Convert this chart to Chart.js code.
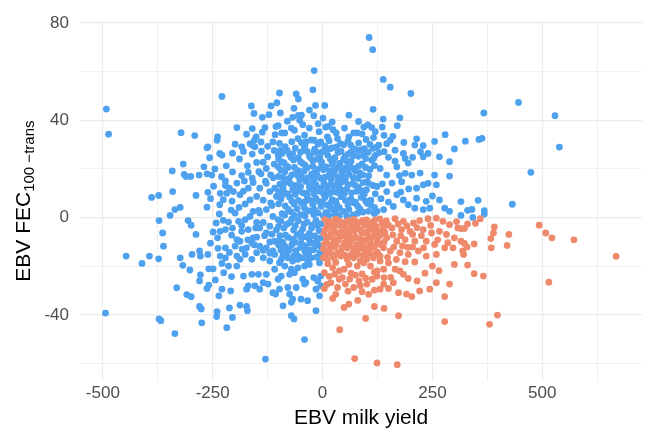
<!DOCTYPE html>
<html>
<head>
<meta charset="utf-8">
<script src="https://cdn.jsdelivr.net/npm/chart.js@4.4.1/dist/chart.umd.min.js"></script>
<style>
  html, body { margin: 0; padding: 0; background: #fff; }
  #wrap { width: 646px; height: 432px; }
</style>
</head>
<body>
<div id="wrap"><canvas id="canvas" width="646" height="432"></canvas></div>
<script>
// [EBV milk yield, EBV FEC100-trans]
var bluePoints = [
  [-229,49.8],[-492,44.6],[-487,34.3],[-322,34.9],[-291,33.7],[-239,33.2],[-240,31.8],[-261,29.1],[-195,37],[-162,45.9],
  [-156,42.8],[-137,41.2],[-122,42.3],[-117,45.9],[-104,47.2],[-98,51.2],[-96,43],[-173,34.3],[-160,36.6],[-151,33.2],
  [-137,35.1],[-131,37],[-106,37.4],[-101,37.8],[-108,34.1],[-93,34.8],[-199,30.2],[-184,29.1],[-165,30.4],[-155,31.8],
  [-140,31.1],[-113,31.1],[-159,29.6],
  [106,74],[114,69],[-19,60.4],[-22,52.5],[138,56.8],[154,53.6],[201,51],[-60,50.8],[-55,48.7],[-65,44.9],
  [-16,46.1],[5,46.1],[-68,41.2],[-55,42],[-48,42.1],[-52,40],[-20,41.9],[1,40.9],[-10,38.6],[22,39.3],
  [7,37.2],[13,37.5],[115,44.5],[138,40.5],[176,41],[136,37.2],[170,37.8],[94,37.2],[103,38.1],[112,37],
  [71,34.8],[79,34.8],[99,32.1],[116,32.9],[154,31.8],[214,32.4],[229,29.6],[255,31.3],[279,34.1],[325,31.4],
  [-86,34.8],[-71,36.8],[-64,35.9],[-41,33.9],[-30,36.8],[-56,32.5],[-38,31.1],[-19,31.8],[-4,31.1],[11,33.2],
  [31,34.8],[34,32.5],[41,30.4],[128,29.8],
  [367,43],[446,47.3],[529,41.9],[356,32.1],[363,32.6],[539,29],
  [474,18.6],[432,5.5],[354,7.1],[330,3],[340,3.4],[315,0.9],[342,0.1],[368,2.9],[368,1.5],[315,6.6],
  [-94,-17.1],[-79,-16.5],[-68,-17.8],[-56,-17.1],[-45,-16.5],[-34,-17.8],[-26,-16.5],[-86,-19.9],[-71,-21.2],[-56,-20.6],
  [-41,-19.9],[-30,-19.2],[-7,-18.5],[-94,-24],[-75,-23.3],[-64,-22.6],[-45,-25.3],[-38,-26.7],[-20,-24.6],[-11,-26],
  [-4,-24],[-98,-29.4],[-79,-28.7],[-60,-28.7],[-41,-27.3],[-15,-29.4],[-4,-28],[-75,-31.4],[-68,-33.5],[-49,-33.5],
  [-34,-34.1],[-7,-32.1],[-90,-36.2],[-71,-34.8],[-15,-38.2],[-71,-40.3],[-65,-41.6],[-41,-50.1],
  [-447,-15.8],[-411,-18.8],[-394,-15.8],[-373,-16.9],[-324,-16.5],[-318,-19.6],[-302,-21.5],[-278,-23.5],[-280,-26],[-259,-21],
  [-249,-21],[-259,-27.7],[-263,-29.1],[-244,-25.6],[-229,-18.8],[-225,-22.6],[-229,-29.4],[-236,-32.1],[-214,-19.9],[-207,-24.2],
  [-209,-30.1],[-195,-19.9],[-180,-24],[-161,-23.3],[-146,-23.3],[-169,-28],[-173,-29.4],[-154,-28],[-143,-29.4],[-135,-26.7],
  [-124,-27.3],[-128,-23.3],[-109,-21.2],[-101,-25.3],[-107,-31.4],[-113,-30.8],[-332,-28.8],[-309,-31.6],[-299,-32.5],[-280,-36.5],
  [-276,-37.5],[-275,-43.2],[-240,-38.6],[-241,-40.6],[-212,-37.1],[-205,-41],[-188,-35.9],[-173,-36.5],[-171,-38.2],[-218,-45.2],
  [-494,-39.2],[-372,-41.6],[-368,-42.3],[-336,-47.6],[-130,-58.1],[-221,-16.5],[-188,-17.1],[-161,-17.1],[-135,-16.5],[-120,-17.8],
  [-98,-18.5],[-278,-15.8],
  [-263,28.7],[-234,26.4],[-229,25.7],[-154,29.1],[-139,27.3],[-101,25.7],[-257,24.6],[-317,22],[-342,19.2],[-315,17.8],
  [-300,16.9],[-311,16.9],[-281,17.5],[-270,20.9],[-263,18],[-252,17.5],[-219,21.3],[-189,24.1],[-171,21.3],[-150,22.7],
  [-128,20.2],[-101,20.9],[-94,23],[-184,17.3],[-169,18.6],[-221,15.1],[-221,13.2],[-212,12.1],[-233,10],[-218,10],
  [-203,10.7],[-188,9.4],[-169,12.1],[-165,7.3],[-150,8.7],[-143,12.1],[-128,14.1],[-120,10.7],[-109,12.1],[-105,8.7],
  [-94,13.5],[-389,8.3],[-373,9.1],[-341,10.7],[-288,9.1],[-261,10.4],[-255,7.8],[-234,5.3],[-263,4.3],[-336,3.3],
  [-324,4.2],[-347,0.9],[-372,-1.2],[-306,-1.2],[-299,-3.1],[-235,1.5],[-214,-1.8],[-199,1.9],[-191,-1.5],[-176,-0.8],
  [-165,0.5],[-158,2.6],[-143,1.9],[-128,3.3],[-113,0.5],[-101,-0.8],[-364,-6.3],[-288,-6.9],[-249,-5.9],[-233,-5.6],
  [-239,-8.3],[-221,-4.9],[-207,-7.2],[-195,-9],[-184,-5.6],[-169,-4.9],[-158,-8.3],[-143,-4.2],[-128,-6.3],[-120,-3.5],
  [-109,-9.7],[-362,-11.7],[-255,-10.5],[-221,-12.4],[-199,-11.7],[-188,-9.7],[-173,-12.4],[-161,-10.4],[-143,-11.7],[-128,-12.4],
  [-113,-13.7],[-98,-9.7],[-297,-15.1],[-280,-13.7],[-261,-15.1],[-233,-15.8],[-195,-15.8],[-176,-15.1],[-150,-14.4],[-109,-15.1],
  [124,29.1],[146,30.4],[165,27.7],[184,26.4],[188,24.3],[210,29.8],[223,27.1],[229,25],[240,26.4],[266,25],
  [300,28.2],[289,23],[255,17.5],[289,17.1],[259,13.5],[266,7.3],[278,3.9],[289,2.6],[229,13.5],[214,12.1],
  [203,17.5],[188,18.2],[180,14.8],[169,9.4],[184,7.3],[195,5.3],[214,8],[236,6.7],[244,3.9],[229,3.3],
  [210,3.9],[161,4.6],[139,3.3],[124,2.6],[109,5.3],[146,10.7],[124,12.8],[101,14.8],[94,9.4],[86,17.5],
  [71,20.2],[56,23],[45,18.2],[146,17.5],[131,20.2],[116,24.3],[94,25.7],[79,27.7],[64,29.8],[169,20.9],
  [-85,29.2],[-62,28.5],[-40,29.6],[-18,28.1],[5,29.4],[22,28.7],[48,29.9],[95,28.3],
  [-92,26.4],[-75,25.8],[-50,26.9],[-30,25.3],[-8,26.6],[12,25.6],[35,26.8],[58,26.1],[82,25.2],[104,26.9],
  [-88,22.6],[-66,23.7],[-45,22.2],[-22,23.4],[-2,22.8],[18,23.9],[40,22.4],[65,23.2],[90,22.1],[112,23.6],
  [-95,19.6],[-78,20.7],[-55,19.3],[-35,20.5],[-12,19.8],[8,20.9],[28,19.4],[50,20.3],[75,19.1],[98,20.6],
  [-90,16.4],[-70,17.6],[-48,16.8],[-25,17.9],[-5,16.2],[15,17.3],[35,16.6],[60,17.8],[80,16.1],[105,17.2],
  [-97,13.8],[-80,14.6],[-60,13.3],[-38,14.9],[-15,13.6],[3,14.2],[25,13.1],[45,14.7],[68,13.9],[92,14.4],[115,13.2],
  [-88,10.6],[-68,11.4],[-45,10.2],[-28,11.8],[-8,10.9],[12,11.3],[32,10.4],[55,11.7],[78,10.8],[100,11.5],
  [-95,7.6],[-75,8.4],[-55,7.1],[-35,8.8],[-15,7.9],[5,8.2],[22,7.4],[42,8.6],[65,7.7],[88,8.3],[110,7.2],
  [-85,4.8],[-65,5.6],[-42,4.3],[-22,5.4],[-3,4.6],[18,5.9],[38,4.1],[58,5.2],[80,4.7],[102,5.8],
  [-92,1.6],[-72,2.4],[-50,1.2],[-30,2.8],[-10,1.9],[8,2.2],[28,1.4],[48,2.6],[70,1.1],[92,2.3],[118,1.7],
  [-95,-1.4],[-75,-2.1],[-55,-1.2],[-35,-1.8],[-15,-1.1],[-3,-2.5],[-88,-4.3],[-66,-5.1],[-45,-4.6],[-25,-4.2],
  [-8,-5.3],[-97,-7.4],[-78,-8.1],[-58,-7.2],[-38,-7.8],[-18,-7.5],[-5,-8.3],[-90,-10.2],[-70,-11.1],[-48,-10.6],
  [-28,-10.4],[-10,-11.3],[-95,-13.3],[-80,-14.1],[-60,-13.6],[-40,-13.9],[-20,-13.2],[-6,-14.4],
  [-125,25],[-140,18],[-115,5],[-135,-2],[-150,-8],[-120,-10],[-130,15],[-110,22],[-145,3],[-105,-5],
  [-80,27.5],[-55,24.5],[-35,27.2],[-12,24.1],[8,27.3],[28,24.6],[52,25.3],[72,28.2],[-82,21.3],[-60,18.2],
  [-40,21.6],[-18,18.5],[2,19.7],[22,21.8],[44,18.9],[62,21.4],[85,18.4],[-85,15.2],[-65,12.2],[-52,15.6],
  [-30,12.7],[-20,15.8],[10,12.4],[20,15.9],[38,12.6],[52,15.9],[75,13.2],[-92,9.2],[-62,9.6],[-40,6.6],
  [-20,9.9],[0,6.3],[15,9.7],[30,6.8],[50,9.9],[72,6.1],[95,9.7],[-78,3.4],[-58,3.7],[-38,3.1],
  [-18,3.3],[2,0.6],[20,3.6],[38,0.8],[60,3.3],[80,1.8],[-82,-2.8],[-62,-3.3],[-42,-2.6],[-22,-3],
  [-68,-8.9],[-48,-8.4],[-30,-9],[-12,-9.3],[-85,-11.9],[-50,-12.2],[-32,-15.2],[-14,-16.2],[-65,-15.6],[-90,-15.4],
  [-98,30.5],[-70,31.2],[-48,30.8],[-26,31.9],[-10,30.2],[15,31.6],[32,29.1],[58,31.5],[82,30.7],[108,30.1],
  [-96,27.6],[-68,26.2],[-42,28.3],[-20,26.8],[0,27.1],[18,28.4],[42,27.2],[65,27],[88,27.9],[115,28.5],
  [-100,24.2],[-72,24.8],[-50,22.9],[-28,24.7],[-6,24.9],[25,23.1],[48,24.1],[70,25.4],[98,24.3],[120,25.6],
  [-86,18.9],[-64,20.6],[-42,19.1],[-22,21.1],[-2,21.4],[16,19.2],[36,20.8],[58,19.6],[82,21.2],[108,19.8],
  [-100,16.9],[-76,16.1],[-56,17.2],[-34,16.3],[-12,17.4],[6,16.6],[26,17.8],[48,16.2],[70,16.4],[92,17.6],
  [-90,12.6],[-72,13.8],[-50,12.8],[-24,13.9],[-4,12.1],[18,13.7],[35,14.8],[58,13.6],[82,12.4],[105,14.1],
  [-80,9.8],[-58,10.9],[-36,10.1],[-18,11.6],[2,9.9],[24,10.6],[44,11.2],[66,10.2],[88,11.1],
  [-100,5.7],[-70,6.8],[-48,6.1],[-28,7.1],[-8,6.6],[12,5.1],[32,5.5],[52,7.1],[75,6.4],[98,6.8],[118,4.2],
  [-86,1.1],[-64,0.9],[-40,0.7],[-20,1.3],[14,0.9],[32,3.1],[55,0.6],[85,3.6],[105,2.6],
  [-100,-3.6],[-70,-0.6],[-50,-6.2],[-30,-6.5],[-12,-3.2],[-84,-7.2],[-62,-10.1],[-38,-11.6],[-20,-10.6],[-4,-11.8],
  [-75,-13.1],[-55,-15.9],[-28,-13.4],[-2,-16.1],[-100,-11.2],
  [-245,20],[-230,16.8],[-205,18.8],[-195,14.2],[-178,15.1],[-160,16.2],[-145,18.9],[-118,17.6],[-135,22.8],[-160,26.1],
  [-180,27.2],[-205,26.5],[-125,29.3],[-110,27.6],[-248,12.9],[-226,7.4],[-206,6.8],[-190,4.2],[-176,5.6],[-180,10.9],
  [-158,14.4],[-135,7.2],[-118,6.1],[-100,10.7],[-112,16.4],[-242,-2.2],[-226,-1.1],[-208,3.1],[-184,-3.2],[-150,-1.9],
  [-132,-7.4],[-115,-6.8],[-170,-9.1],[-152,-4.2],[-205,-4.3],[-238,-12.6],[-212,-14.3],[-183,-12.9],[-155,-11.2],[-135,-13.4],
  [-120,-14.6],
  [128,26.7],[150,24.8],[165,23.2],[175,17.3],[158,14.2],[136,13.9],[120,9.8],[150,6.4],[133,7.8],[118,21.4],
  [140,27.1],[160,33.4],[185,30.9],[195,22.4],[205,24.8],[178,10.5],[196,11.8],[222,18.3],[240,14.1],[250,8.9],
  [120,35.3],[90,34.4],[60,33.2],[50,36.8],[82,39.5],[-8,35.3],[24,36.1],[-45,38.2],[-80,39.6],[-30,44.2],
  [60,42.1],[140,33.8]
];

var orangePoints = [
  [359,-0.4],[348,-2.3],[330,-2.6],[323,-4.5],[315,-4.5],[391,-3.8],[389,-6.3],[383,-8.6],[384,-12.4],[424,-6.9],
  [420,-11.4],[493,-3.1],[508,-6.3],[522,-8.3],[572,-9.1],[668,-15.9],[323,-10.6],[329,-12.1],[345,-10.8],[321,-15.1],
  [366,-24],[515,-26.5],[398,-40],[380,-43.8],
  [2,-16.5],[11,-17.1],[26,-16.5],[41,-15.8],[56,-17.1],[71,-16.5],[86,-17.8],[101,-17.1],[116,-16.5],[131,-17.8],
  [4,-22.6],[23,-20.6],[38,-21.9],[49,-21.2],[60,-19.2],[79,-19.9],[94,-18.5],[109,-19.9],[124,-21.9],[139,-21.2],
  [165,-21.2],[176,-21.9],[184,-23.3],[195,-25],[233,-22.8],[250,-19.9],[300,-19.2],[4,-29.1],[19,-26.7],[38,-25.3],
  [34,-28.7],[52,-27.3],[71,-28.7],[83,-26],[86,-28],[101,-27.3],[113,-25.3],[124,-24],[131,-29.4],[139,-27.3],
  [161,-26.7],[173,-30.8],[191,-31.4],[203,-32.4],[221,-30.1],[244,-29.4],[259,-26.7],[289,-27.3],[278,-32.4],[23,-33.2],
  [49,-36.9],[60,-35.5],[140,-37.3],[98,-41.4],[173,-40.3],[39,-46],[278,-42.7],[73,-57.9],[124,-59.7],[170,-60.4],
  [165,-0.4],[184,-1.5],[207,-2.2],[221,-1.2],[240,-0.4],[259,-0.2],[274,-1.5],[289,-2.9],[308,-4.2],[158,-4.2],
  [180,-4.9],[199,-5.6],[229,-4.9],[248,-6.3],[266,-5.6],[282,-6.9],[300,-8.3],[315,-9.7],[146,-8.3],[169,-9.7],
  [188,-9],[210,-9.7],[236,-9.7],[255,-11],[278,-12.4],[297,-12.4],[319,-13.7],[154,-13.7],[176,-14.4],[195,-15.1],
  [218,-13.7],[236,-15.8],[259,-15.1],[131,-15.8],[139,-12.4],
  [5,-0.8],[18,-1.5],[30,-0.6],[45,-1.9],[58,-1.1],[72,-0.7],[85,-1.8],[100,-0.9],[115,-1.6],[130,-0.5],
  [145,-1.3],[10,-3.8],[25,-4.6],[38,-3.2],[52,-4.9],[66,-3.5],[80,-4.4],[95,-3.1],[108,-4.8],[122,-3.6],
  [138,-4.2],[3,-6.6],[16,-7.8],[32,-6.2],[46,-7.4],[60,-6.9],[75,-7.9],[90,-6.4],[104,-7.6],[118,-6.1],
  [132,-7.2],[8,-9.6],[22,-10.8],[36,-9.3],[50,-10.4],[64,-9.8],[78,-11.1],[92,-9.5],[110,-10.7],[125,-9.9],
  [2,-12.8],[15,-13.6],[28,-12.2],[42,-13.9],[56,-12.5],[70,-14.1],[84,-12.9],[98,-13.5],[112,-12.3],[125,-14.2],
  [12,-18.9],[30,-18.4],[65,-22.8],[90,-23.1],[150,-18.6],[155,-24.5],[210,-18.2],[215,-26],[265,-21.8],[105,-31.5],
  [80,-34],[118,-36.5],[330,-19.5],[345,-23],
  [12,-2.2],[24,-2.9],[36,-1.2],[50,-3],[64,-2.3],[78,-2.5],[92,-1.1],[106,-2.7],[120,-0.9],[136,-2.4],
  [6,-5.1],[20,-6.2],[44,-5.6],[58,-5.2],[72,-5.6],[86,-5.1],[100,-5.7],[114,-4.4],[128,-5.8],[142,-6.1],
  [10,-8.4],[26,-8.8],[40,-7.9],[56,-8.6],[70,-8.6],[84,-8.7],[98,-9.1],[112,-8.3],[126,-8.1],[140,-10.1],
  [4,-10.9],[18,-11.6],[30,-11.1],[45,-12.1],[60,-11.4],[72,-12.4],[88,-11.4],[102,-11.8],[118,-11.9],[133,-11.1],
  [8,-14.8],[22,-15.1],[35,-14.6],[50,-15.4],[64,-15.3],[78,-15.2],[92,-15.5],[106,-14.7],[120,-14.9],
  [150,-3.1],[160,-7.1],[172,-2.6],[178,-7.4],[192,-3.4],[205,-6.9],[215,-4.1],[225,-7.4],[194,-12.2],[162,-12.1],
  [182,-11.6],[205,-12.1],[148,-16.3],[168,-17.2],[188,-18.1],[230,-12.4],[246,-3.2],[262,-9.1],[285,-10.3],[305,-1.6],
  [15,-24.1],[28,-23.2],[45,-24.6],[62,-25.2],[75,-23.6],[98,-24.8],[118,-22.4],[140,-24.6],[10,-27.4],[58,-30.2],
  [90,-30.4],[118,-29.8],[150,-29.1],[30,-31.5]
];

var xTicks = [-500, -375, -250, -125, 0, 125, 250, 375, 500, 625];
var xLabelled = [-500, -250, 0, 250, 500];
var yTicks = [-60, -40, -20, 0, 20, 40, 60, 80];
var yLabelled = [-40, 0, 40, 80];

var xTitle = 'EBV milk yield';
var yTitle = 'EBV FEC';
var yTitleSub = '100 \u2212trans';

var blueColour = '#4EA1EE';
var orangeColour = '#EE8A6B';
var gridColour = '#EBEBEB';

function toXY(list) {
  return list.map(function (p) { return { x: p[0], y: p[1] }; });
}

var axisTitles = {
  id: 'axisTitles',
  afterDraw: function (chart) {
    var ctx = chart.ctx;
    var area = chart.chartArea;
    ctx.save();
    ctx.fillStyle = '#000';
    ctx.font = '21px "Liberation Sans", Arial, sans-serif';
    ctx.textAlign = 'center';
    ctx.textBaseline = 'alphabetic';
    ctx.fillText(xTitle, (area.left + area.right) / 2, 424);

    ctx.translate(0, (area.top + area.bottom) / 2);
    ctx.rotate(-Math.PI / 2);
    ctx.textAlign = 'left';
    var mainFont = '21px "Liberation Sans", Arial, sans-serif';
    var subFont = '15px "Liberation Sans", Arial, sans-serif';
    ctx.font = mainFont;
    var w1 = ctx.measureText(yTitle).width;
    ctx.font = subFont;
    var w2 = ctx.measureText(yTitleSub).width;
    var start = -(w1 + w2) / 2;
    ctx.font = mainFont;
    ctx.fillText(yTitle, start, 30);
    ctx.font = subFont;
    ctx.fillText(yTitleSub, start + w1, 34);
    ctx.restore();
  }
};

var config = {
  type: 'scatter',
  data: {
    datasets: [{
      label: 'orange',
      data: toXY(orangePoints),
      backgroundColor: orangeColour,
      borderWidth: 0,
      pointRadius: 3.4
    }, {
      label: 'blue',
      data: toXY(bluePoints),
      backgroundColor: blueColour,
      borderWidth: 0,
      pointRadius: 3.4
    }]
  },
  options: {
    responsive: false,
    animation: false,
    events: [],
    layout: { padding: { top: 19, right: 0, left: 0, bottom: 0 } },
    plugins: {
      legend: { display: false },
      tooltip: { enabled: false }
    },
    scales: {
      x: {
        type: 'linear',
        min: -552,
        max: 727,
        afterBuildTicks: function (scale) {
          scale.ticks = xTicks.map(function (v) { return { value: v }; });
        },
        afterFit: function (scale) { scale.height = 51; },
        border: { display: false },
        grid: {
          drawTicks: false,
          color: gridColour,
          lineWidth: function (c) { return xLabelled.indexOf(c.tick.value) >= 0 ? 1.2 : 0.75; }
        },
        ticks: {
          padding: 2,
          color: '#4D4D4D',
          font: { family: '"Liberation Sans", Arial, sans-serif', size: 17 },
          maxRotation: 0,
          autoSkip: false,
          callback: function (v) { return xLabelled.indexOf(v) >= 0 ? String(v) : ''; }
        }
      },
      y: {
        type: 'linear',
        min: -67.1,
        max: 80.7,
        afterBuildTicks: function (scale) {
          scale.ticks = yTicks.map(function (v) { return { value: v }; });
        },
        afterFit: function (scale) { scale.width = 80; },
        border: { display: false },
        grid: {
          drawTicks: false,
          color: gridColour,
          lineWidth: function (c) { return yLabelled.indexOf(c.tick.value) >= 0 ? 1.2 : 0.75; }
        },
        ticks: {
          padding: 11,
          color: '#4D4D4D',
          font: { family: '"Liberation Sans", Arial, sans-serif', size: 17 },
          autoSkip: false,
          callback: function (v) { return yLabelled.indexOf(v) >= 0 ? String(v) : ''; }
        }
      }
    }
  },
  plugins: [axisTitles]
};

var ctx = document.getElementById('canvas').getContext('2d');
window.myScatter = new Chart(ctx, config);
</script>
</body>
</html>
